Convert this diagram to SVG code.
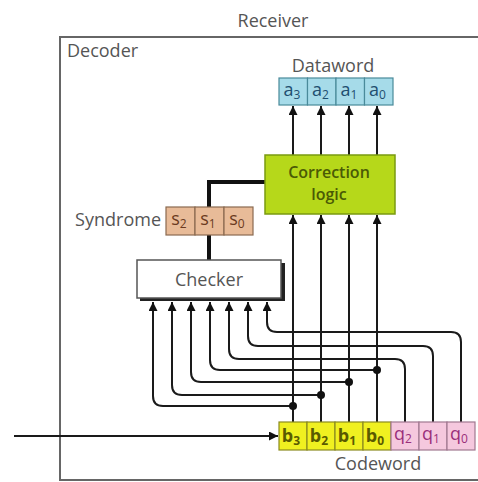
<svg xmlns="http://www.w3.org/2000/svg" width="478" height="482" viewBox="0 0 478 482">
<defs>
<marker id="arr" viewBox="0 0 10 10" refX="10" refY="5" markerWidth="9" markerHeight="9" markerUnits="userSpaceOnUse" orient="auto">
<path d="M0,0 L10,5 L0,10 z" fill="#111"/>
</marker>
<style>
text{font-family:"Open Sans","Liberation Sans",sans-serif;}
.lbl{font-size:18px;fill:#555;}
.wa{fill:none;stroke:#1a1a1a;stroke-width:2;marker-end:url(#arr);}
.thick{fill:none;stroke:#111;stroke-width:4;}
.dcell{fill:#a6dbe9;stroke:#4a8a9a;stroke-width:1.2;}
.dtxt{font-size:18px;fill:#1f4f70;text-anchor:middle;}
.scell{fill:#e8bb98;stroke:#8a6a50;stroke-width:1.2;}
.stxt{font-size:18px;fill:#6a3a20;text-anchor:middle;}
.bcell{fill:#f0f020;stroke:#8a8a20;stroke-width:1.2;}
.btxt{font-size:18px;font-weight:bold;fill:#5a5a00;text-anchor:middle;}
.qcell{fill:#f5c8de;stroke:#a07890;stroke-width:1.2;}
.qtxt{font-size:18px;fill:#9a2f7a;text-anchor:middle;}
.sub{font-size:12px;}
.corr{font-size:16px;fill:#4a5a05;font-weight:600;text-anchor:middle;}
</style>
</defs>
<rect width="478" height="482" fill="#fff"/>

<g id="receiver-label"><text class="lbl" x="273" y="27" text-anchor="middle">Receiver</text></g>

<g id="decoder">
<path d="M480,37 H60 V480 H480" fill="none" stroke="#666" stroke-width="2"/>
<text class="lbl" x="67" y="57">Decoder</text>
</g>

<g id="connectors">
<path class="wa" d="M14,436 H278"/>
<path class="wa" d="M293,155 V106"/>
<path class="wa" d="M321,155 V106"/>
<path class="wa" d="M349,155 V106"/>
<path class="wa" d="M377,155 V106"/>
<path class="wa" d="M293,422 V215"/>
<path class="wa" d="M321,422 V215"/>
<path class="wa" d="M349,422 V215"/>
<path class="wa" d="M377,422 V215"/>
<path class="wa" d="M293,406 H163 Q153,406 153,396 V302"/>
<path class="wa" d="M321,395 H182 Q172,395 172,385 V302"/>
<path class="wa" d="M349,382 H201 Q191,382 191,372 V302"/>
<path class="wa" d="M377,370 H220 Q210,370 210,360 V302"/>
<path class="wa" d="M405,422 V369 Q405,359 395,359 H239 Q229,359 229,349 V302"/>
<path class="wa" d="M433,422 V356 Q433,346 423,346 H258 Q248,346 248,336 V302"/>
<path class="wa" d="M461,422 V342 Q461,332 451,332 H277 Q267,332 267,322 V302"/>
<circle cx="293" cy="406" r="4" fill="#111"/>
<circle cx="321" cy="395" r="4" fill="#111"/>
<circle cx="349" cy="382" r="4" fill="#111"/>
<circle cx="377" cy="370" r="4" fill="#111"/>
<path class="thick" d="M209,207 V182 H265"/>
<path class="thick" d="M209,235 V260"/>
</g>

<g id="dataword">
<text class="lbl" x="333" y="72" text-anchor="middle">Dataword</text>
<rect class="dcell" x="279" y="78" width="28.5" height="27"/>
<rect class="dcell" x="307.5" y="78" width="28.5" height="27"/>
<rect class="dcell" x="336" y="78" width="28.5" height="27"/>
<rect class="dcell" x="364.5" y="78" width="28.5" height="27"/>
<text class="dtxt" x="292" y="96">a<tspan class="sub" dy="3">3</tspan></text>
<text class="dtxt" x="320.5" y="96">a<tspan class="sub" dy="3">2</tspan></text>
<text class="dtxt" x="349" y="96">a<tspan class="sub" dy="3">1</tspan></text>
<text class="dtxt" x="377.5" y="96">a<tspan class="sub" dy="3">0</tspan></text>
</g>

<g id="correction-logic">
<rect x="265" y="155" width="130" height="59" fill="#b6d81a" stroke="#7a9a10" stroke-width="1.5"/>
<text class="corr" x="329" y="178">Correction</text>
<text class="corr" x="329" y="200">logic</text>
</g>

<g id="syndrome">
<text class="lbl" x="161" y="226" text-anchor="end">Syndrome</text>
<rect class="scell" x="166" y="207" width="29" height="28"/>
<rect class="scell" x="195" y="207" width="29" height="28"/>
<rect class="scell" x="224" y="207" width="29" height="28"/>
<text class="stxt" x="179" y="225">s<tspan class="sub" dy="3">2</tspan></text>
<text class="stxt" x="208" y="225">s<tspan class="sub" dy="3">1</tspan></text>
<text class="stxt" x="237" y="225">s<tspan class="sub" dy="3">0</tspan></text>
</g>

<g id="checker">
<rect x="140" y="263" width="145" height="38" fill="#222"/>
<rect x="137" y="260" width="144" height="38" fill="#fff" stroke="#555" stroke-width="1.5"/>
<text x="209" y="286" text-anchor="middle" font-size="18" fill="#555">Checker</text>
</g>

<g id="codeword">
<rect class="bcell" x="279" y="422" width="28" height="28"/>
<rect class="bcell" x="307" y="422" width="28" height="28"/>
<rect class="bcell" x="335" y="422" width="28" height="28"/>
<rect class="bcell" x="363" y="422" width="28" height="28"/>
<rect class="qcell" x="391" y="422" width="28" height="28"/>
<rect class="qcell" x="419" y="422" width="28" height="28"/>
<rect class="qcell" x="447" y="422" width="28" height="28"/>
<text class="btxt" x="291" y="442">b<tspan class="sub" dy="3">3</tspan></text>
<text class="btxt" x="319" y="442">b<tspan class="sub" dy="3">2</tspan></text>
<text class="btxt" x="347" y="442">b<tspan class="sub" dy="3">1</tspan></text>
<text class="btxt" x="375" y="442">b<tspan class="sub" dy="3">0</tspan></text>
<text class="qtxt" x="403" y="440">q<tspan class="sub" dy="3">2</tspan></text>
<text class="qtxt" x="431" y="440">q<tspan class="sub" dy="3">1</tspan></text>
<text class="qtxt" x="459" y="440">q<tspan class="sub" dy="3">0</tspan></text>
<text class="lbl" x="378" y="470" text-anchor="middle">Codeword</text>
</g>
</svg>
